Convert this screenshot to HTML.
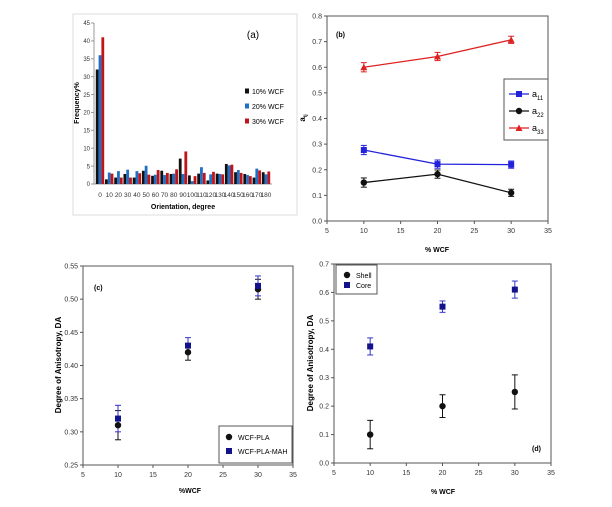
<!DOCTYPE html>
<html><head><meta charset="utf-8"><style>
body{margin:0;background:#fff;}
svg{display:block;font-family:"Liberation Sans",sans-serif;}
</style></head><body>
<svg id="fig" width="612" height="507" viewBox="0 0 612 507"></svg>
<script>
// Panel (a) data
const aCats=[0,10,20,30,40,50,60,70,80,90,100,110,120,130,140,150,160,170,180];
const aW10=[32,1.3,1.8,2.8,1.8,3.7,2.3,3.7,2.8,7.1,2.4,2.9,1.0,2.9,5.6,3.3,2.8,1.8,3.3];
const aW20=[36,3.2,3.6,4.0,3.6,5.1,2.6,2.5,2.9,2.8,0.8,4.7,2.7,2.8,5.2,3.9,2.5,4.3,2.7];
const aW30=[41,2.9,1.8,1.8,3.0,2.6,3.9,3.1,4.1,9.1,2.2,3.1,3.4,2.7,5.4,3.1,2.2,3.8,3.5];
const aTicks=[0,5,10,15,20,25,30,35,40,45];
// Panel (b) data
const bX=[10,20,30];
const bA11=[0.277,0.222,0.220];
const bA22=[0.150,0.183,0.110];
const bA33=[0.600,0.642,0.707];
const bErr=[0.018,0.016,0.014];
const bYTicks=[0,0.1,0.2,0.3,0.4,0.5,0.6,0.7,0.8];
const xTicks=[5,10,15,20,25,30,35];
// Panel (c) data
const cX=[10,20,30];
const cPLA=[0.310,0.420,0.515];
const cPLAErr=[0.022,0.012,0.015];
const cMAH=[0.320,0.430,0.520];
const cMAHErr=[0.020,0.012,0.015];
const cYTicks=[0.25,0.30,0.35,0.40,0.45,0.50,0.55];
// Panel (d) data
const dX=[10,20,30];
const dShell=[0.10,0.20,0.25];
const dShellErr=[0.05,0.04,0.06];
const dCore=[0.41,0.55,0.61];
const dCoreErr=[0.03,0.02,0.03];
const dYTicks=[0,0.1,0.2,0.3,0.4,0.5,0.6,0.7];

const NS="http://www.w3.org/2000/svg";
const svg=document.getElementById('fig');
function mk(tag,attrs,parent,txt){const e=document.createElementNS(NS,tag);for(const k in attrs)e.setAttribute(k,attrs[k]);if(txt!==undefined)e.textContent=txt;(parent||svg).appendChild(e);return e;}
function lin(d0,d1,r0,r1){return v=>r0+(v-d0)*(r1-r0)/(d1-d0);}

// ---------- Panel (a) ----------
const ga=mk('g',{});


const fr=mk('rect',{x:73,y:14,width:224,height:201,fill:'#fff',stroke:'#ddd','stroke-width':1},ga);


const ay=lin(0,45,184,23);
const ax0=100,aStep=(266-100)/18;
mk('line',{x1:94,y1:23,x2:94,y2:184,stroke:'#999'},ga);
mk('line',{x1:94,y1:184,x2:272,y2:184,stroke:'#999'},ga);
aTicks.forEach(t=>{mk('line',{x1:91,x2:94,y1:ay(t),y2:ay(t),stroke:'#999'},ga);
 const tl=mk('text',{x:90,y:ay(t)+2.2,'font-size':6,'text-anchor':'end',fill:'#333'},ga,t);
 
 });
const aSeries=[[aW10,'#111'],[aW20,'#1f6fc4'],[aW30,'#c0141c']];
aCats.forEach((c,i)=>{const cx=ax0+i*aStep;
 aSeries.forEach((s,j)=>{const v=s[0][i];const r=mk('rect',{x:cx-4.2+j*2.8,y:ay(v),width:2.8,height:ay(0)-ay(v),fill:s[1]},ga);
  
  });
 const tl=mk('text',{x:cx,y:197,'font-size':6.5,'text-anchor':'middle',fill:'#333'},ga,c);
 
 });
let t=mk('text',{x:0,y:0,'font-size':7,'font-weight':'bold','text-anchor':'middle',transform:'translate(79,103) rotate(-90)'},ga,'Frequency%');

t=mk('text',{x:183,y:209,'font-size':7,'font-weight':'bold','text-anchor':'middle'},ga,'Orientation, degree');

t=mk('text',{x:253,y:38,'font-size':10,'text-anchor':'middle'},ga,'(a)');

[['10% WCF','#111'],['20% WCF','#1f6fc4'],['30% WCF','#c0141c']].forEach((l,i)=>{const y=92+i*15;
 const g=mk('g',{},ga);
 mk('rect',{x:245,y:y-3.5,width:4,height:5,fill:l[1]},g);mk('text',{x:252,y:y+2,'font-size':7},g,l[0]);});

// ---------- generic xy panel ----------
function panel(name,box,ymin,ymax,yTicks,yFmt){
 const g=mk('g',{});
 const X=lin(5,35,box.x0,box.x1),Y=lin(ymin,ymax,box.y0,box.y1);
 mk('rect',{x:box.x0,y:box.y1,width:box.x1-box.x0,height:box.y0-box.y1,fill:'none',stroke:'#555','stroke-width':1},g);
 xTicks.forEach(v=>{mk('line',{x1:X(v),x2:X(v),y1:box.y0,y2:box.y0+3,stroke:'#555'},g);
  const e=mk('text',{x:X(v),y:box.y0+12,'font-size':7,'text-anchor':'middle',fill:'#333'},g,v);
  });
 yTicks.forEach(v=>{mk('line',{x1:box.x0-3,x2:box.x0,y1:Y(v),y2:Y(v),stroke:'#555'},g);
  const e=mk('text',{x:box.x0-5,y:Y(v)+2.5,'font-size':7,'text-anchor':'end',fill:'#333'},g,v.toFixed(yFmt));
  });
 return {g,X,Y};
}
function errbar(g,x,y0,y1,col){mk('line',{x1:x,x2:x,y1:y0,y2:y1,stroke:col,'stroke-width':1},g);
 mk('line',{x1:x-3,x2:x+3,y1:y0,y2:y0,stroke:col},g);mk('line',{x1:x-3,x2:x+3,y1:y1,y2:y1,stroke:col},g);}
function marker(g,type,x,y,col){
 if(type==='c')return mk('circle',{cx:x,cy:y,r:3.2,fill:col},g);
 if(type==='s')return mk('rect',{x:x-3,y:y-3,width:6,height:6,fill:col},g);
 return mk('polygon',{points:`${x},${y-3.5} ${x+3.5},${y+3} ${x-3.5},${y+3}`,fill:col},g);}

// ---------- Panel (b) ----------
const pb=panel('panel-b',{x0:327,x1:548,y0:221,y1:16},0,0.8,bYTicks,1);
[[bA11,'#2222dd','s','a11'],[bA22,'#111','c','a22'],[bA33,'#dd2222','t','a33']].forEach(s=>{
 const pts=bX.map((x,i)=>pb.X(x)+','+pb.Y(s[0][i])).join(' ');
 const l=mk('polyline',{points:pts,fill:'none',stroke:s[1],'stroke-width':1.3},pb.g);
 
 
 bX.forEach((x,i)=>{errbar(pb.g,pb.X(x),pb.Y(s[0][i]-bErr[i]),pb.Y(s[0][i]+bErr[i]),s[1]);
  const m=marker(pb.g,s[2],pb.X(x),pb.Y(s[0][i]),s[1]);
  
  });
});
const lb=mk('g',{},pb.g);
mk('rect',{x:504,y:79,width:44,height:61,fill:'#fff',stroke:'#555'},lb);
[['11','#2222dd','s'],['22','#111','c'],['33','#dd2222','t']].forEach((s,i)=>{const y=94+i*17;
 mk('line',{x1:509,x2:529,y1:y,y2:y,stroke:s[1],'stroke-width':1.3},lb);marker(lb,s[2],519,y,s[1]);
 const e=mk('text',{x:532,y:y+3,'font-size':9},lb,'a');mk('tspan',{'font-size':6,dy:3},e,s[0]);});
t=mk('text',{x:336,y:37,'font-size':7,'font-weight':'bold'},pb.g,'(b)');

t=mk('text',{x:0,y:0,'font-size':8,'font-weight':'bold','text-anchor':'middle',transform:'translate(305,118) rotate(-90)'},pb.g);
t.textContent='a';mk('tspan',{'font-size':5,dy:2},t,'ij');

t=mk('text',{x:437,y:252,'font-size':7,'font-weight':'bold','text-anchor':'middle'},pb.g,'% WCF');


// ---------- Panel (c) ----------
const pc=panel('panel-c',{x0:83,x1:293,y0:465,y1:266},0.25,0.55,cYTicks,2);
cX.forEach((x,i)=>{
 errbar(pc.g,pc.X(x),pc.Y(cPLA[i]-cPLAErr[i]),pc.Y(cPLA[i]+cPLAErr[i]),'#111');
 errbar(pc.g,pc.X(x),pc.Y(cMAH[i]-cMAHErr[i]),pc.Y(cMAH[i]+cMAHErr[i]),'#3333cc');
 let m=marker(pc.g,'c',pc.X(x),pc.Y(cPLA[i]),'#111');
 
 m=marker(pc.g,'s',pc.X(x),pc.Y(cMAH[i]),'#12128a');
 });
const lc=mk('g',{},pc.g);
mk('rect',{x:219,y:426,width:73,height:37,fill:'#fff',stroke:'#555'},lc);
marker(lc,'c',229,437,'#111');mk('text',{x:238,y:440,'font-size':7},lc,'WCF-PLA');
marker(lc,'s',229,451,'#12128a');mk('text',{x:238,y:454,'font-size':7},lc,'WCF-PLA-MAH');
t=mk('text',{x:94,y:290,'font-size':7,'font-weight':'bold'},pc.g,'(c)');

t=mk('text',{x:0,y:0,'font-size':8,'font-weight':'bold','text-anchor':'middle',transform:'translate(61,365) rotate(-90)'},pc.g,'Degree of Anisotropy, DA');

t=mk('text',{x:190,y:493,'font-size':7,'font-weight':'bold','text-anchor':'middle'},pc.g,'%WCF');


// ---------- Panel (d) ----------
const pd=panel('panel-d',{x0:334,x1:551,y0:463,y1:264},0,0.7,dYTicks,1);
dX.forEach((x,i)=>{
 errbar(pd.g,pd.X(x),pd.Y(dShell[i]-dShellErr[i]),pd.Y(dShell[i]+dShellErr[i]),'#111');
 errbar(pd.g,pd.X(x),pd.Y(dCore[i]-dCoreErr[i]),pd.Y(dCore[i]+dCoreErr[i]),'#3333cc');
 let m=marker(pd.g,'c',pd.X(x),pd.Y(dShell[i]),'#111');
 
 m=marker(pd.g,'s',pd.X(x),pd.Y(dCore[i]),'#12128a');
 });
const ld=mk('g',{},pd.g);
mk('rect',{x:336,y:265,width:41,height:29,fill:'#fff',stroke:'#555'},ld);
marker(ld,'c',347,275,'#111');mk('text',{x:356,y:278,'font-size':7},ld,'Shell');
marker(ld,'s',347,285,'#12128a');mk('text',{x:356,y:288,'font-size':7},ld,'Core');
t=mk('text',{x:532,y:451,'font-size':7,'font-weight':'bold'},pd.g,'(d)');

t=mk('text',{x:0,y:0,'font-size':8,'font-weight':'bold','text-anchor':'middle',transform:'translate(313,363) rotate(-90)'},pd.g,'Degree of Anisotropy, DA');

t=mk('text',{x:443,y:494,'font-size':7,'font-weight':'bold','text-anchor':'middle'},pd.g,'% WCF');

</script>
</body></html>
